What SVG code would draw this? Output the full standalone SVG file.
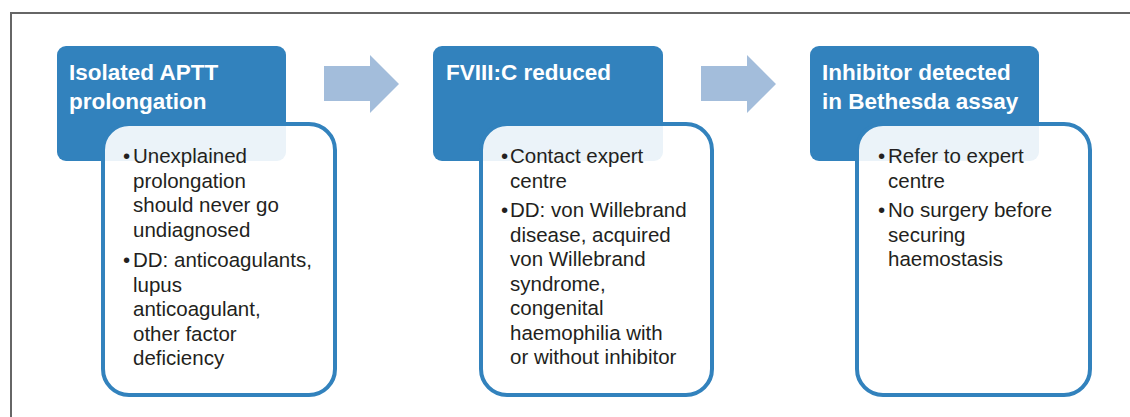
<svg xmlns="http://www.w3.org/2000/svg" width="1130" height="417" viewBox="0 0 1130 417">
<style>
.frame{fill:none;stroke:#666;stroke-width:2}
.hdr{fill:#3282bd}
.det{fill:#fff;fill-opacity:0.9;stroke:#3282bd;stroke-width:4}
.ht{font-family:"Liberation Sans",Arial,sans-serif;font-weight:bold;font-size:22.5px;fill:#fff}
.bt{font-family:"Liberation Sans",Arial,sans-serif;font-size:20.5px;fill:#231f20}
.arr{fill:#a3bddb}
</style>
<rect width="1130" height="417" fill="#fff"/>
<path class="frame" d="M11,417 V13 H1130"/>
<g id="connectors">
<path class="arr" d="M324,66 H370 V55 L399,84 L370,113 V101 H324 Z"/>
<path class="arr" d="M701,66 H747 V55 L776,84 L747,113 V101 H701 Z"/>
</g>
<g id="node1">
<rect class="hdr" x="57" y="46" width="229" height="115" rx="9"/>
<text class="ht" x="69" y="80">Isolated APTT</text>
<text class="ht" x="69" y="109">prolongation</text>
<rect class="det" x="103" y="124" width="232" height="271" rx="26"/>
<text class="bt"><tspan x="123" y="163">•</tspan><tspan x="133" y="163">Unexplained</tspan><tspan x="133" y="187.5">prolongation</tspan><tspan x="133" y="212">should never go</tspan><tspan x="133" y="236.5">undiagnosed</tspan><tspan x="123" y="267">•</tspan><tspan x="133" y="267">DD: anticoagulants,</tspan><tspan x="133" y="291.5">lupus</tspan><tspan x="133" y="316">anticoagulant,</tspan><tspan x="133" y="340.5">other factor</tspan><tspan x="133" y="365">deficiency</tspan></text>
</g>
<g id="node2">
<rect class="hdr" x="433" y="46" width="230" height="115" rx="9"/>
<text class="ht" x="446" y="80">FVIII:C reduced</text>
<rect class="det" x="481" y="124" width="231" height="271" rx="26"/>
<text class="bt"><tspan x="501" y="163">•</tspan><tspan x="510" y="163">Contact expert</tspan><tspan x="510" y="187.5">centre</tspan><tspan x="501" y="217">•</tspan><tspan x="510" y="217">DD: von Willebrand</tspan><tspan x="510" y="241.5">disease, acquired</tspan><tspan x="510" y="266">von Willebrand</tspan><tspan x="510" y="290.5">syndrome,</tspan><tspan x="510" y="315">congenital</tspan><tspan x="510" y="339.5">haemophilia with</tspan><tspan x="510" y="364">or without inhibitor</tspan></text>
</g>
<g id="node3">
<rect class="hdr" x="810" y="46" width="229" height="115" rx="9"/>
<text class="ht" x="822" y="80">Inhibitor detected</text>
<text class="ht" x="822" y="109">in Bethesda assay</text>
<rect class="det" x="857" y="124" width="233" height="271" rx="26"/>
<text class="bt"><tspan x="878" y="163">•</tspan><tspan x="888" y="163">Refer to expert</tspan><tspan x="888" y="187.5">centre</tspan><tspan x="878" y="217">•</tspan><tspan x="888" y="217">No surgery before</tspan><tspan x="888" y="241.5">securing</tspan><tspan x="888" y="266">haemostasis</tspan></text>
</g>
</svg>
